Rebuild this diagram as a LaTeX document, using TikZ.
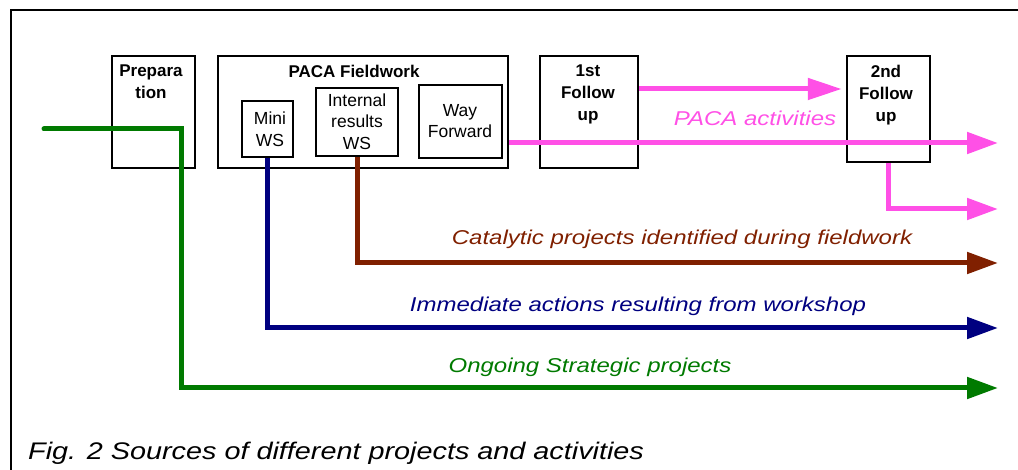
\documentclass[tikz,border=0pt]{standalone}
\usepackage{fontspec}
\setmainfont{Liberation Sans}
\newfontfamily\labfont[FakeStretch=1.2]{Liberation Sans}
\usetikzlibrary{arrows.meta}
\definecolor{pinkc}{RGB}{255,80,230}
\definecolor{brownc}{RGB}{128,32,0}
\definecolor{navyc}{RGB}{0,0,128}
\definecolor{greenc}{RGB}{0,122,0}
\tikzset{
  box/.style={draw=black, line width=2.5pt, inner sep=0pt, fill=none},
  btxt/.style={font=\fontsize{17}{22}\selectfont\bfseries, align=center, anchor=north, inner sep=0pt},
  rtxt/.style={font=\fontsize{17.5}{21.5}\selectfont, align=center, anchor=north, inner sep=0pt},
  flow/.style={line width=5pt, -{Triangle[length=31pt,width=21pt]}},
  lab/.style={font=\labfont\itshape\fontsize{20}{24}\selectfont, anchor=base, inner sep=0pt},
}
\begin{document}
\begin{tikzpicture}[x=1pt,y=-1pt]
\useasboundingbox (0,0) rectangle (1018,470);
\draw[line width=2.5pt] (11,472) -- (11,10) -- (1020,10);
% boxes
\node[box, minimum width=83, minimum height=112] (prep) at (153.5,112) {};
\node[box, minimum width=290, minimum height=112] (field) at (363,112) {};
\node[box, minimum width=51, minimum height=56] (mini) at (267.5,129) {};
\node[box, minimum width=82, minimum height=68] (internal) at (357,122) {};
\node[box, minimum width=83, minimum height=73] (wf) at (460.5,121.5) {};
\node[box, minimum width=98, minimum height=112] (f1) at (589,112) {};
\node[box, minimum width=83, minimum height=106] (f2) at (888.5,109) {};
% box texts
\node[btxt] (tprep) at (151,65) {Prepara\\tion};
\node[btxt] (tfield) at (354,65) {PACA Fieldwork};
\node[btxt] (tf1) at (588,65) {1st\\Follow\\up};
\node[btxt] (tf2) at (886,65) {2nd\\Follow\\up};
\node[rtxt] (tmini) at (270,112) {Mini\\WS};
\node[rtxt] (tint) at (357,93.5) {Internal\\results\\WS};
\node[rtxt] (twf) at (460,104) {Way\\Forward};
% end coordinates
\coordinate (gstart) at (44,129);
\coordinate (gend) at (998,388);
\coordinate (bend) at (998,328);
\coordinate (rend) at (998,263);
\coordinate (pend) at (998,143);
\coordinate (pend2) at (998,209);
% connectors
\draw[flow, greenc, line cap=round] (gstart) -- (181,129) -- (181,388) -- (gend);
\draw[flow, navyc] (mini.south) |- (bend);
\draw[flow, brownc] (internal.south) |- (rend);
\draw[flow, pinkc] ([yshift=-31pt]field.east) -- (pend);
\draw[flow, pinkc, -{Triangle[length=34pt,width=21pt]}] ([yshift=23pt]f1.east) -- ([xshift=-4pt,yshift=20pt]f2.west);
\draw[flow, pinkc] (f2.south) |- (pend2);
% labels
\node[lab, text=pinkc] (lpaca) at (755,126) {PACA activities};
\node[lab, text=brownc] (lcat) at (682,245) {Catalytic projects identified during fieldwork};
\node[lab, text=navyc] (limm) at (638,312) {Immediate actions resulting from workshop};
\node[lab, text=greenc] (long) at (590,373) {Ongoing Strategic projects};
\node[font=\labfont\itshape\fontsize{24}{28}\selectfont, anchor=base west, inner sep=0pt] (cap) at (28,459) {Fig. 2 Sources of different projects and activities};
\end{tikzpicture}
\end{document}
